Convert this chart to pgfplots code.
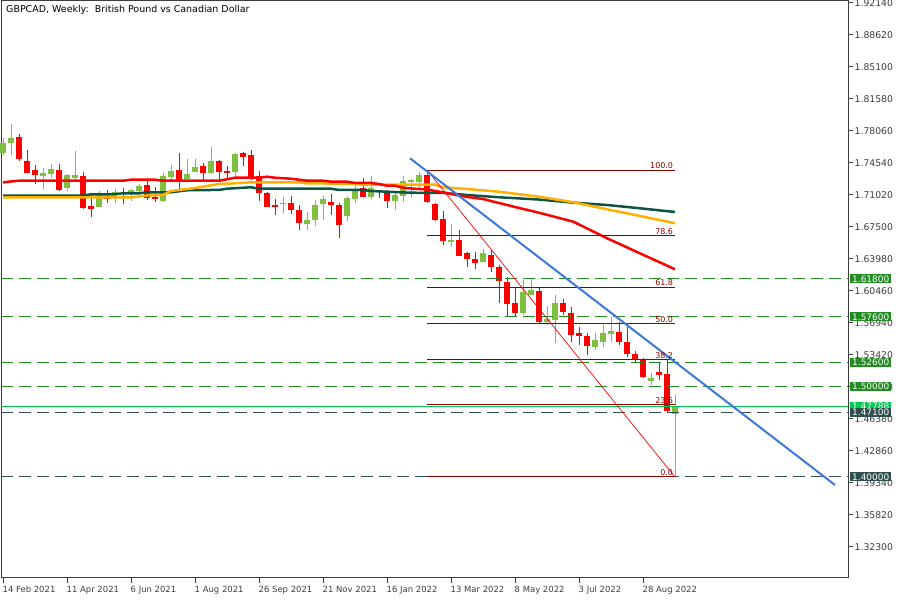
\documentclass[border=0pt]{standalone}
\usepackage{fontspec}
\setmainfont{DejaVu Sans}
\usepackage{pgfplots}
\usepackage{pgfplotstable}
\pgfplotsset{compat=1.18}

\definecolor{upc}{RGB}{128,192,64}
\definecolor{dnc}{RGB}{255,0,0}
\definecolor{maorange}{RGB}{255,176,0}
\definecolor{madark}{RGB}{12,84,68}
\definecolor{trendblue}{RGB}{60,120,216}
\definecolor{fibred}{RGB}{139,0,0}
\definecolor{lvlgreen}{RGB}{34,139,34}
\definecolor{slate}{RGB}{47,79,79}
\definecolor{pricegreen}{RGB}{0,200,80}
\definecolor{axisgray}{RGB}{60,60,60}

% weekly candles, w = weeks since 14 Feb 2021
\pgfplotstableread{
w o h l c
0 1.7564 1.7729 1.7542 1.7674
1 1.7677 1.7883 1.7542 1.7729
5 1.7314 1.7399 1.7168 1.7347
6 1.7333 1.7443 1.7289 1.7388
8 1.7182 1.7333 1.7149 1.7322
9 1.7289 1.7586 1.7248 1.7322
12 1.6973 1.7146 1.6970 1.7102
14 1.7099 1.7168 1.7017 1.7135
16 1.7127 1.7168 1.7036 1.7157
17 1.7146 1.7223 1.7102 1.7201
20 1.7039 1.7347 1.7028 1.7311
21 1.7303 1.7432 1.7267 1.7369
23 1.7281 1.7498 1.7278 1.7333
24 1.7358 1.7498 1.7355 1.7410
26 1.7341 1.7630 1.7333 1.7476
29 1.7358 1.7567 1.7303 1.7556
35 1.7006 1.7080 1.6901 1.7014
38 1.6783 1.6915 1.6717 1.6827
39 1.6827 1.7047 1.6761 1.6992
40 1.7003 1.7091 1.6827 1.7058
43 1.6871 1.7091 1.6816 1.7069
44 1.7058 1.7223 1.7017 1.7157
46 1.7080 1.7311 1.7058 1.7179
49 1.7036 1.7135 1.6937 1.7102
50 1.7091 1.7311 1.7025 1.7256
51 1.7245 1.7278 1.7080 1.7267
52 1.7245 1.7355 1.7157 1.7322
56 1.6588 1.6783 1.6533 1.6607
60 1.6365 1.6508 1.6362 1.6461
65 1.5807 1.6167 1.5782 1.6038
66 1.6002 1.6178 1.5999 1.6057
68 1.5705 1.5884 1.5672 1.5735
69 1.5727 1.5997 1.5477 1.5911
74 1.5433 1.5581 1.5397 1.5507
75 1.5488 1.5672 1.5427 1.5581
76 1.5570 1.5763 1.5488 1.5606
81 1.5056 1.5141 1.5012 1.5092
84 1.4690 1.4902 1.4000 1.4779
}\upcandles

\pgfplotstableread{
w o h l c
2 1.7743 1.7773 1.7479 1.7495
3 1.7476 1.7597 1.7344 1.7347
4 1.7377 1.7432 1.7223 1.7325
7 1.7377 1.7443 1.7151 1.7157
10 1.7311 1.7355 1.6948 1.6962
11 1.6981 1.7124 1.6863 1.6948
13 1.7080 1.7157 1.7017 1.7061
15 1.7127 1.7179 1.7003 1.7113
18 1.7212 1.7267 1.7047 1.7066
19 1.7083 1.7190 1.7025 1.7055
22 1.7377 1.7564 1.7157 1.7267
25 1.7421 1.7454 1.7267 1.7341
27 1.7476 1.7487 1.7256 1.7358
28 1.7369 1.7421 1.7289 1.7347
30 1.7567 1.7575 1.7421 1.7523
31 1.7542 1.7597 1.7267 1.7286
32 1.7311 1.7366 1.7039 1.7127
33 1.7127 1.7135 1.6967 1.6973
34 1.6992 1.7058 1.6882 1.6981
36 1.7010 1.7091 1.6893 1.6937
37 1.6937 1.6992 1.6717 1.6797
41 1.7025 1.7113 1.6882 1.6992
42 1.6992 1.7011 1.6632 1.6772
45 1.7179 1.7289 1.7077 1.7080
47 1.7157 1.7162 1.7069 1.7143
48 1.7135 1.7157 1.6959 1.7039
53 1.7322 1.7377 1.7017 1.7028
54 1.7003 1.7014 1.6819 1.6827
55 1.6838 1.6926 1.6552 1.6599
57 1.6607 1.6717 1.6428 1.6431
58 1.6467 1.6471 1.6313 1.6398
59 1.6398 1.6478 1.6288 1.6357
61 1.6442 1.6497 1.6258 1.6313
62 1.6313 1.6332 1.5911 1.6159
63 1.6145 1.6200 1.5774 1.5903
64 1.5911 1.6090 1.5774 1.5801
67 1.6046 1.6093 1.5697 1.5708
70 1.5911 1.5958 1.5782 1.5818
71 1.5801 1.5867 1.5488 1.5562
72 1.5581 1.5650 1.5452 1.5554
73 1.5551 1.5581 1.5342 1.5441
77 1.5598 1.5708 1.5452 1.5482
78 1.5488 1.5647 1.5317 1.5353
79 1.5353 1.5386 1.5257 1.5287
80 1.5295 1.5312 1.5086 1.5097
82 1.5158 1.5257 1.5067 1.5122
83 1.5133 1.5295 1.4718 1.4729
}\downcandles

\pgfplotsset{
  wick/.style={draw=none, mark=none, forget plot,
    error bars/.cd, y dir=both, y explicit, error mark=none,
    error bar style={line width=1bp, draw=#1}},
  body/.style={draw=none, mark=none, forget plot,
    error bars/.cd, y dir=both, y explicit, error mark=none,
    error bar style={line width=5.5bp, draw=#1}},
}
\tikzset{
  lbl/.style={anchor=west, xshift=2bp, text=white, inner xsep=2bp, inner ysep=1bp,
    text height=7bp, text depth=0bp, font=\fontsize{9}{9}\selectfont},
  fiblbl/.style={anchor=south east, text=fibred, inner sep=1bp,
    font=\fontsize{8}{9}\selectfont},
}

\begin{document}
\begin{tikzpicture}
\begin{axis}[
  at={(1bp,22bp)}, anchor=south west,
  scale only axis, width=847bp, height=577bp,
  xmin=-0.25, xmax=105.625, ymin=1.2889, ymax=1.9236,
  clip=false, set layers,
  axis line style={axisgray, line width=1bp},
  xtick pos=bottom, ytick pos=right, yticklabel pos=right,
  tick align=outside, major tick length=5bp,
  tick style={axisgray, line width=1bp},
  xtick={0,8,...,80},
  xticklabels={14 Feb 2021, 11 Apr 2021, 6 Jun 2021, 1 Aug 2021, 26 Sep 2021,
    21 Nov 2021, 16 Jan 2022, 13 Mar 2022, 8 May 2022, 3 Jul 2022, 28 Aug 2022},
  ytick={1.3230,1.3582,1.3934,1.4286,1.4638,1.4990,1.5342,1.5694,1.6046,
    1.6398,1.6750,1.7102,1.7454,1.7806,1.8158,1.8510,1.8862,1.9214},
  tick label style={text=axisgray},
  xticklabel style={font=\fontsize{8.5}{9}\selectfont, anchor=north west, inner xsep=0bp, xshift=-0.5bp},
  yticklabel style={font=\fontsize{9.3}{9}\selectfont, anchor=west, inner xsep=1.5bp,
    /pgf/number format/.cd, fixed, fixed zerofill, precision=5, assume math mode=true},
]

% candles
\addplot[wick=upc] table[x=w, y expr={(\thisrow{h}+\thisrow{l})/2},
  y error expr={(\thisrow{h}-\thisrow{l})/2}] {\upcandles};
\addplot[body=upc] table[x=w, y expr={(\thisrow{o}+\thisrow{c})/2},
  y error expr={max(abs(\thisrow{c}-\thisrow{o})/2,0.0005)}] {\upcandles};
\addplot[wick=dnc] table[x=w, y expr={(\thisrow{h}+\thisrow{l})/2},
  y error expr={(\thisrow{h}-\thisrow{l})/2}] {\downcandles};
\addplot[body=dnc] table[x=w, y expr={(\thisrow{o}+\thisrow{c})/2},
  y error expr={max(abs(\thisrow{c}-\thisrow{o})/2,0.0005)}] {\downcandles};

% moving averages
\addplot[madark, line width=2.5bp, mark=none] coordinates {
 (0,1.7094) (10,1.7094) (11,1.7110) (14,1.7110) (15,1.7121) (17,1.7121) (18,1.7132)
 (21,1.7132) (22,1.7143) (23,1.7154) (27,1.7158) (28,1.7171) (31,1.7187) (32,1.7171)
 (41,1.7171) (42,1.7157) (45,1.7157) (46,1.7146) (48,1.7138) (51,1.7127) (55,1.7125)
 (58,1.7102) (62,1.7077) (67,1.7052) (71,1.7020) (75.5,1.6992) (79.6,1.6956) (84,1.6915)};
\addplot[maorange, line width=2.5bp, mark=none] coordinates {
 (0,1.7075) (16,1.7075) (18,1.7097) (20,1.7102) (21,1.7146) (23,1.7168) (24,1.7179)
 (25,1.7193) (26,1.7209) (27,1.7223) (28,1.7226) (30,1.7236) (31,1.7242) (37,1.7242)
 (38,1.7230) (44,1.7226) (45,1.7215) (52,1.7215) (54,1.7215) (55,1.7187) (58,1.7168)
 (62,1.7138) (67,1.7083) (71.3,1.7022) (75.5,1.6945) (79.6,1.6871) (84,1.6791)};
\addplot[dnc, line width=2.5bp, mark=none] coordinates {
 (0,1.7240) (1,1.7251) (2,1.7259) (15,1.7259) (16,1.7270) (19,1.7270) (20,1.7259)
 (27,1.7259) (28,1.7275) (29,1.7292) (32,1.7292) (33,1.7303) (34,1.7292) (36,1.7281)
 (37,1.7270) (38,1.7259) (40,1.7259) (41,1.7248) (43,1.7248) (44,1.7234) (46,1.7234)
 (47,1.7223) (48,1.7204) (49,1.7204) (50,1.7182) (51,1.7174) (52,1.7168) (53,1.7163)
 (54,1.7146) (55,1.7132) (56,1.7113) (57,1.7097) (58,1.7080) (60,1.7058) (62,1.7014)
 (64,1.6970) (67,1.6907) (71.3,1.6808) (73,1.6734) (75.5,1.6626) (79.6,1.6461) (84,1.6285)};

% horizontal levels
\addplot[lvlgreen, line width=1bp, dash pattern=on 12bp off 6bp] coordinates {(-0.25,1.618) (105.625,1.618)};
\addplot[lvlgreen, line width=1bp, dash pattern=on 12bp off 6bp] coordinates {(-0.25,1.576) (105.625,1.576)};
\addplot[lvlgreen, line width=1bp, dash pattern=on 12bp off 6bp] coordinates {(-0.25,1.526) (105.625,1.526)};
\addplot[lvlgreen, line width=1bp, dash pattern=on 12bp off 6bp] coordinates {(-0.25,1.500) (105.625,1.500)};
\addplot[pricegreen, line width=1bp] coordinates {(-0.25,1.4779) (105.625,1.4779)};
\addplot[slate, line width=1bp, dash pattern=on 12bp off 6bp] coordinates {(-0.25,1.471) (105.625,1.471)};
\addplot[slate, line width=1bp, dash pattern=on 12bp off 6bp] coordinates {(-0.25,1.400) (105.625,1.400)};

% fibonacci retracement
\addplot[fibred, line width=1bp] coordinates {(53,1.73768) (84,1.73768)};
\addplot[fibred, line width=1bp] coordinates {(53,1.66542) (84,1.66542)};
\addplot[fibred, line width=1bp] coordinates {(53,1.60869) (84,1.60869)};
\addplot[fibred, line width=1bp] coordinates {(53,1.56884) (84,1.56884)};
\addplot[fibred, line width=1bp] coordinates {(53,1.52899) (84,1.52899)};
\addplot[fibred, line width=1bp] coordinates {(53,1.47970) (84,1.47970)};
\addplot[fibred, line width=1bp] coordinates {(53,1.40000) (84,1.40000)};
\addplot[dnc, line width=0.7bp] coordinates {(53,1.73768) (84,1.4000)};

% trend line
\addplot[trendblue, line width=2bp] coordinates {(50.875,1.7506) (104,1.3912)};

\node[fiblbl] at (axis cs:83.9,1.73768) {100.0};
\node[fiblbl] at (axis cs:83.9,1.66542) {78.6};
\node[fiblbl] at (axis cs:83.9,1.60869) {61.8};
\node[fiblbl] at (axis cs:83.9,1.56884) {50.0};
\node[fiblbl] at (axis cs:83.9,1.52899) {38.2};
\node[fiblbl] at (axis cs:83.9,1.47970) {23.6};
\node[fiblbl] at (axis cs:83.9,1.40000) {0.0};

\node[lbl, fill=lvlgreen] at (axis cs:105.625,1.618) {1.61800};
\node[lbl, fill=lvlgreen] at (axis cs:105.625,1.576) {1.57600};
\node[lbl, fill=lvlgreen] at (axis cs:105.625,1.526) {1.52600};
\node[lbl, fill=lvlgreen] at (axis cs:105.625,1.500) {1.50000};
\node[lbl, fill=pricegreen] at (axis cs:105.625,1.4779) {1.47788};
\node[lbl, fill=slate] at (axis cs:105.625,1.471) {1.47100};
\node[lbl, fill=slate] at (axis cs:105.625,1.400) {1.40000};

\node[anchor=north west, font=\fontsize{9.5}{10}\selectfont, inner sep=0bp, xshift=5bp, yshift=-4bp]
  at (rel axis cs:0,1) {GBPCAD, Weekly:\ \ British Pound vs Canadian Dollar};
\end{axis}
\pgfresetboundingbox
\path (0,0) rectangle (900bp,600bp);
\end{tikzpicture}
\end{document}
